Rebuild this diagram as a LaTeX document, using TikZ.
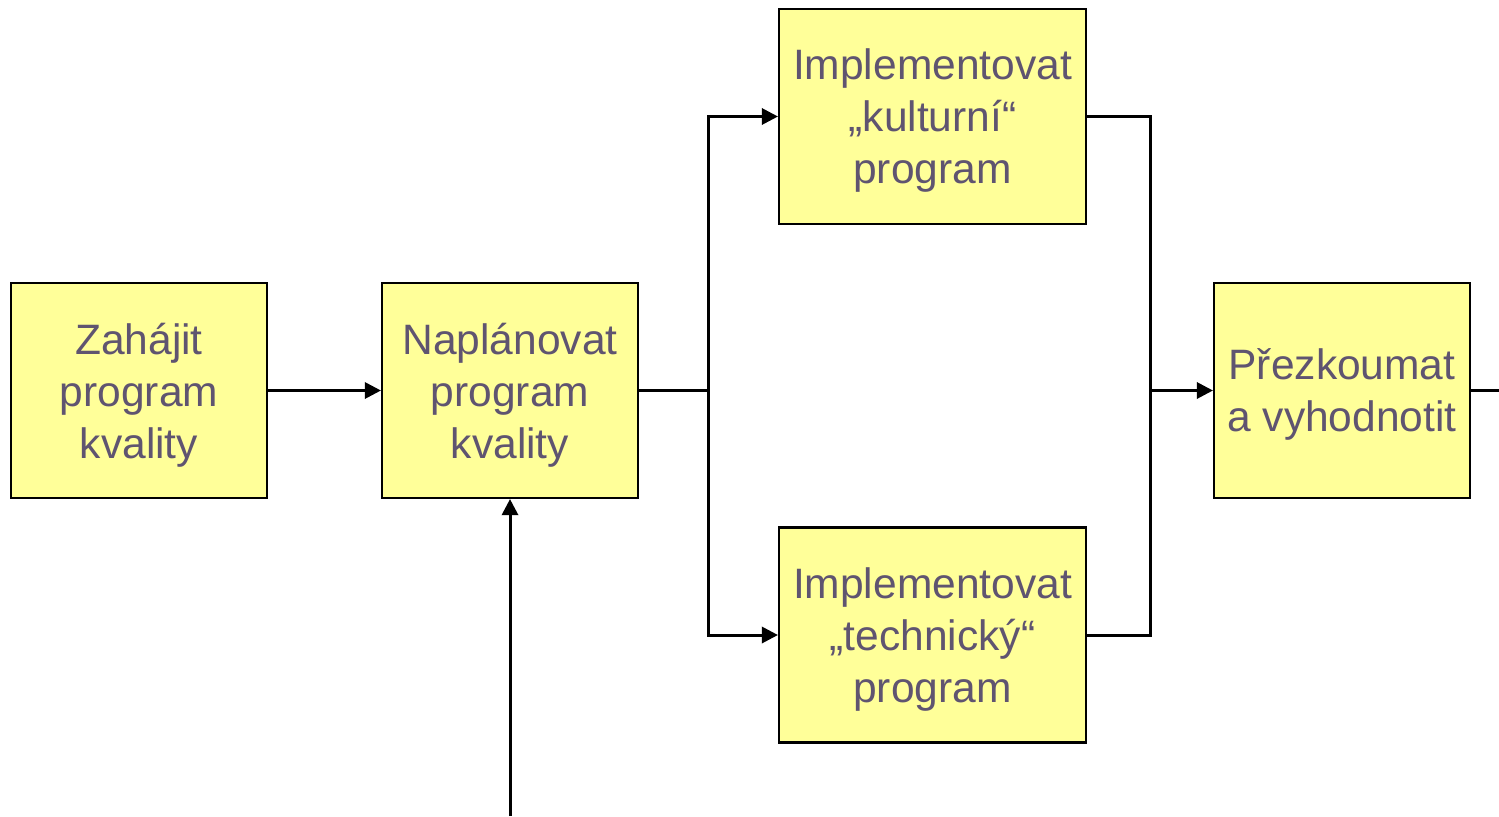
\documentclass[tikz,border=0pt]{standalone}
\usepackage{fontspec}
\setmainfont{Liberation Sans}
\usetikzlibrary{arrows.meta}
\definecolor{boxfill}{HTML}{FFFF99}
\definecolor{boxtext}{HTML}{5F5470}
\tikzset{
    krok/.style={draw=black, line width=0.6pt, fill=boxfill, text=boxtext,
        minimum width=2.56cm, minimum height=2.15cm, inner sep=0pt,
        align=center, font=\fontsize{12.1}{14.8}\selectfont, text depth=0pt},
    sipka/.style={line width=0.85pt, -{Triangle[length=4.6pt,width=4.6pt]}},
    cara/.style={line width=0.85pt}
}
\begin{document}
\begin{tikzpicture}
    \useasboundingbox (0,0) rectangle (14.99,8.16);
    \node[krok] (zahajit) at (1.39,4.255) {Zahájit\\program\\kvality};
    \node[krok] (naplanovat) at (5.10,4.255) {Naplánovat\\program\\kvality};
    \node[krok,minimum width=3.07cm] (kulturni) at (9.325,6.995) {Implementovat\\„kulturní“\\program};
    \node[krok,minimum width=3.07cm] (technicky) at (9.325,1.81) {Implementovat\\„technický“\\program};
    \node[krok] (prezkoumat) at (13.42,4.255) {Přezkoumat\\a vyhodnotit};
    \coordinate (J1) at (7.08,4.255);
    \coordinate (J2) at (11.50,4.255);
    \coordinate (out) at (14.99,4.255);
    \coordinate (in) at (5.10,0);
    \draw[sipka] (zahajit) -- (naplanovat);
    \draw[cara] (naplanovat) -- (J1);
    \draw[sipka] (J1) |- (kulturni);
    \draw[sipka] (J1) |- (technicky);
    \draw[cara] (kulturni) -| (J2);
    \draw[cara] (technicky) -| (J2);
    \draw[sipka] (J2) -- (prezkoumat);
    \draw[cara] (prezkoumat) -- (out);
    \draw[sipka] (in) -- (naplanovat);
\end{tikzpicture}
\end{document}
